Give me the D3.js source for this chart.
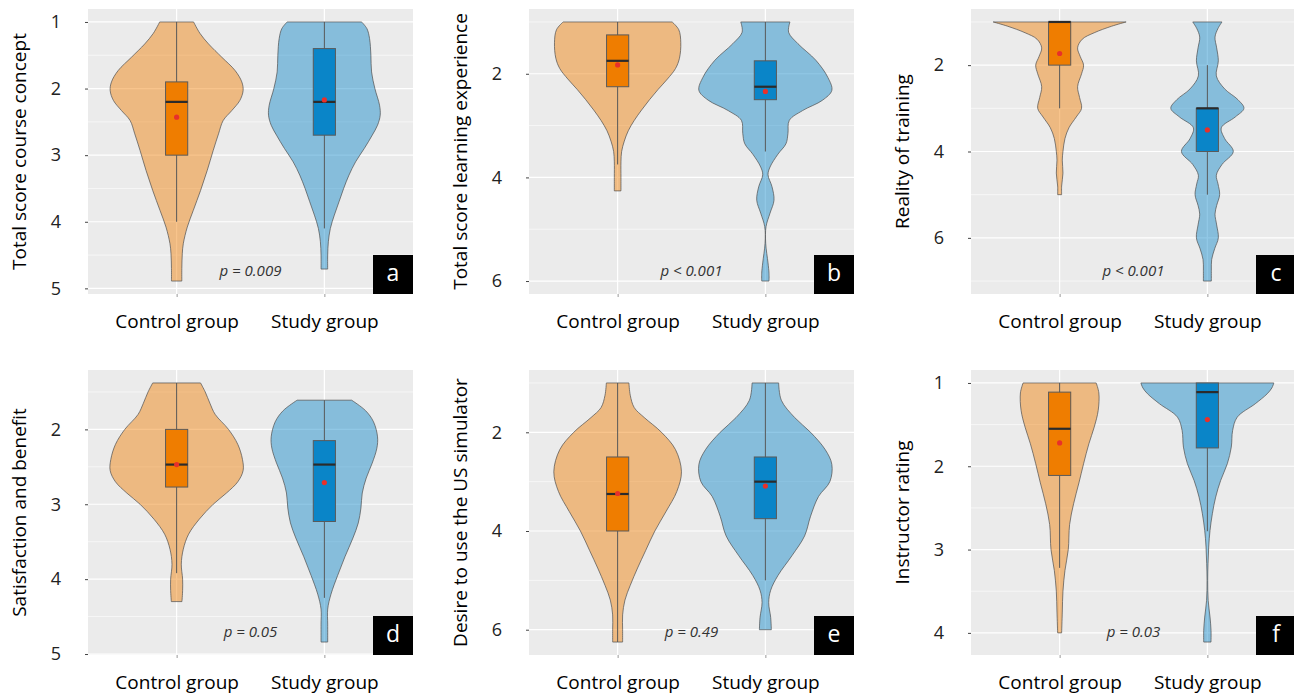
<!DOCTYPE html>
<html>
<head>
<meta charset="utf-8">
<script src="https://cdn.jsdelivr.net/npm/d3@7"></script>
<style>
  body { margin: 0; background: #fff; }
  svg { display: block; font-family: "Open Sans", sans-serif; }
</style>
</head>
<body>
<svg id="vis"></svg>
<script>
// Datos
const groups = ["Control group", "Study group"];
const letters = ["a", "b", "c", "d", "e", "f"];
const yTitles = [
    "Total score course concept",
    "Total score learning experience",
    "Reality of training",
    "Satisfaction and benefit",
    "Desire to use the US simulator",
    "Instructor rating"
];
const pTexts = ["p = 0.009", "p < 0.001", "p < 0.001", "p = 0.05", "p = 0.49", "p = 0.03"];
const majorTicks = [[1, 2, 3, 4, 5], [2, 4, 6], [2, 4, 6], [2, 3, 4, 5], [2, 4, 6], [1, 2, 3, 4]];
const minorTicks = [[1.5, 2.5, 3.5, 4.5], [1, 3, 5], [1, 3, 5, 7], [1.5, 2.5, 3.5, 4.5], [1, 3, 5], [1.5, 2.5, 3.5]];

// densidad relativa del violin: [valor, ancho relativo]
const aControl = [[1.0, 0.255], [1.17, 0.35], [1.33, 0.48], [1.53, 0.68], [1.73, 0.88], [1.9, 0.98], [2.03, 1.0], [2.18, 0.95], [2.33, 0.83], [2.48, 0.70], [2.68, 0.63], [2.93, 0.55], [3.23, 0.46], [3.53, 0.36], [3.83, 0.25], [4.08, 0.16], [4.33, 0.10], [4.48, 0.085], [4.7, 0.078], [4.89, 0.078]];
const aStudy = [[1.0, 0.56], [1.1, 0.64], [1.25, 0.68], [1.5, 0.70], [1.75, 0.71], [2.0, 0.76], [2.25, 0.83], [2.4, 0.84], [2.55, 0.80], [2.7, 0.72], [2.9, 0.60], [3.1, 0.47], [3.3, 0.37], [3.5, 0.29], [3.7, 0.22], [3.9, 0.15], [4.1, 0.09], [4.3, 0.06], [4.5, 0.05], [4.71, 0.05]];
const bControl = [[1.0, 0.82], [1.15, 0.92], [1.4, 0.95], [1.7, 0.93], [1.9, 0.87], [2.1, 0.75], [2.3, 0.61], [2.5, 0.48], [2.7, 0.36], [2.9, 0.25], [3.1, 0.16], [3.3, 0.10], [3.5, 0.06], [3.7, 0.05], [4.0, 0.05], [4.26, 0.05]];
const bStudy = [[1.0, 0.37], [1.2, 0.35], [1.42, 0.49], [1.74, 0.76], [2.07, 0.94], [2.32, 1.0], [2.51, 0.86], [2.71, 0.56], [2.9, 0.36], [3.15, 0.34], [3.35, 0.31], [3.55, 0.19], [3.8, 0.07], [3.95, 0.04], [4.18, 0.10], [4.44, 0.13], [4.69, 0.07], [4.95, 0.01], [5.27, 0.005], [5.65, 0.04], [5.85, 0.055], [6.0, 0.055]];
const cControl = [[1.0, 1.0], [1.1, 0.78], [1.25, 0.52], [1.4, 0.34], [1.6, 0.27], [1.8, 0.31], [2.0, 0.36], [2.2, 0.33], [2.5, 0.27], [2.75, 0.30], [3.0, 0.33], [3.2, 0.25], [3.45, 0.14], [3.7, 0.08], [4.0, 0.05], [4.2, 0.04], [4.5, 0.05], [4.8, 0.03], [5.0, 0.03]];
const cStudy = [[1.0, 0.22], [1.15, 0.16], [1.35, 0.115], [1.6, 0.14], [1.9, 0.165], [2.25, 0.135], [2.55, 0.26], [2.8, 0.46], [3.0, 0.55], [3.2, 0.42], [3.45, 0.21], [3.7, 0.26], [4.0, 0.39], [4.3, 0.22], [4.55, 0.135], [4.75, 0.16], [5.0, 0.185], [5.25, 0.14], [5.45, 0.115], [5.7, 0.14], [6.0, 0.165], [6.25, 0.11], [6.5, 0.065], [6.75, 0.06], [7.0, 0.06]];
const dControl = [[1.38, 0.36], [1.5, 0.43], [1.65, 0.50], [1.8, 0.58], [2.0, 0.78], [2.2, 0.92], [2.4, 0.99], [2.55, 1.0], [2.7, 0.92], [2.85, 0.75], [3.0, 0.55], [3.2, 0.34], [3.4, 0.18], [3.6, 0.10], [3.8, 0.07], [4.0, 0.09], [4.15, 0.09], [4.3, 0.08]];
const dStudy = [[1.61, 0.41], [1.75, 0.62], [1.9, 0.74], [2.1, 0.80], [2.25, 0.79], [2.45, 0.72], [2.65, 0.63], [2.85, 0.57], [3.05, 0.55], [3.25, 0.51], [3.45, 0.43], [3.7, 0.31], [3.95, 0.20], [4.2, 0.10], [4.4, 0.05], [4.6, 0.05], [4.84, 0.05]];
const eControl = [[1.0, 0.17], [1.25, 0.19], [1.5, 0.25], [1.7, 0.40], [2.0, 0.66], [2.35, 0.87], [2.8, 0.96], [3.2, 0.89], [3.6, 0.73], [4.0, 0.56], [4.4, 0.42], [4.75, 0.30], [5.1, 0.19], [5.4, 0.11], [5.7, 0.075], [6.0, 0.075], [6.25, 0.075]];
const eStudy = [[1.0, 0.20], [1.35, 0.24], [1.7, 0.44], [2.0, 0.68], [2.35, 0.90], [2.65, 1.0], [3.0, 0.97], [3.3, 0.80], [3.7, 0.68], [4.1, 0.59], [4.5, 0.40], [4.9, 0.19], [5.2, 0.08], [5.45, 0.05], [5.75, 0.08], [6.0, 0.09]];
const fControl = [[1.0, 0.55], [1.12, 0.59], [1.33, 0.58], [1.53, 0.52], [1.73, 0.44], [1.97, 0.36], [2.2, 0.29], [2.45, 0.21], [2.7, 0.15], [3.0, 0.13], [3.25, 0.08], [3.5, 0.05], [3.75, 0.04], [4.0, 0.03]];
const fStudy = [[1.0, 1.0], [1.06, 0.97], [1.13, 0.90], [1.25, 0.72], [1.41, 0.45], [1.57, 0.38], [1.77, 0.36], [1.97, 0.30], [2.17, 0.20], [2.37, 0.125], [2.57, 0.075], [2.77, 0.04], [2.97, 0.02], [3.17, 0.01], [3.37, 0.005], [3.61, 0.012], [3.81, 0.04], [3.97, 0.055], [4.11, 0.055]];

// cajas: [min, q1, mediana, q3, max, media]
const boxA = [[1.0, 1.9, 2.2, 3.0, 4.0, 2.43], [1.0, 1.4, 2.2, 2.7, 4.1, 2.17]];
const boxB = [[1.0, 1.25, 1.75, 2.25, 3.75, 1.83], [1.0, 1.75, 2.25, 2.5, 3.5, 2.34]];
const boxC = [[1.0, 1.0, 1.0, 2.0, 3.0, 1.73], [2.0, 3.0, 3.0, 4.0, 5.0, 3.5]];
const boxD = [[1.38, 2.0, 2.47, 2.77, 3.92, 2.47], [1.61, 2.15, 2.47, 3.23, 4.25, 2.71]];
const boxE = [[1.0, 2.5, 3.25, 4.0, 6.25, 3.24], [1.0, 2.5, 3.0, 3.75, 5.0, 3.09]];
const boxF = [[1.0, 1.11, 1.55, 2.11, 3.22, 1.72], [1.0, 1.0, 1.11, 1.78, 2.78, 1.44]];

const violins = [[aControl, aStudy], [bControl, bStudy], [cControl, cStudy], [dControl, dStudy], [eControl, eStudy], [fControl, fStudy]];
const boxes = [boxA, boxB, boxC, boxD, boxE, boxF];

const WIDTH = 1294;
const HEIGHT = 698;
const PANEL_W = 325;
const PANEL_H = 285;
const COLS = [88, 529, 971];
const ROWS = [9, 370];

const VIOLIN_FILL = ["#EF7D00", "#0A85C8"];
const BOX_FILL = ["#EF7D00", "#0A85C8"];

const svg = d3.select("#vis")
    .attr("width", WIDTH)
    .attr("height", HEIGHT);

letters.forEach((letter, i) => {
    const left = COLS[i % 3];
    const top = ROWS[Math.floor(i / 3)];
    const g = svg.append("g").attr("transform", `translate(${left}, ${top})`);

    // escala y invertida con expansion del 5%
    const allValues = violins[i].flat().map(d => d[0]);
    const [lo, hi] = d3.extent(allValues);
    const pad = (hi - lo) * 0.05;
    const y = d3.scaleLinear().domain([lo - pad, hi + pad]).range([0, PANEL_H]);

    const x = d3.scalePoint().domain(groups).range([0, PANEL_W]).padding(0.6);
    const step = x.step();
    const w = d3.scaleLinear().domain([0, 1]).range([0, step * 0.45]);

    // fondo
    g.append("rect")
        .attr("width", PANEL_W)
        .attr("height", PANEL_H)
        .attr("fill", "#EBEBEB");

    g.selectAll(".minor")
        .data(minorTicks[i].filter(v => v > y.domain()[0] && v < y.domain()[1]))
        .join("line")
        .attr("x1", 0).attr("x2", PANEL_W)
        .attr("y1", d => y(d)).attr("y2", d => y(d))
        .attr("stroke", "#fff").attr("stroke-width", 0.6);

    g.selectAll(".major")
        .data(majorTicks[i])
        .join("line")
        .attr("x1", 0).attr("x2", PANEL_W)
        .attr("y1", d => y(d)).attr("y2", d => y(d))
        .attr("stroke", "#fff").attr("stroke-width", 1.2);

    g.selectAll(".vgrid")
        .data(groups)
        .join("line")
        .attr("x1", d => x(d)).attr("x2", d => x(d))
        .attr("y1", 0).attr("y2", PANEL_H)
        .attr("stroke", "#fff").attr("stroke-width", 1.2);

    // violines
    groups.forEach((grp, j) => {
        const cx = x(grp);
        const area = d3.area()
            .y(d => y(d[0]))
            .x0(d => cx - w(d[1]))
            .x1(d => cx + w(d[1]))
            .curve(d3.curveCatmullRom.alpha(0.5));
        g.append("path")
            .datum(violins[i][j])
            .attr("d", area)
            .attr("fill", VIOLIN_FILL[j])
            .attr("fill-opacity", 0.45)
            .attr("stroke", "#4d4d4d")
            .attr("stroke-width", 0.7);
    });

    // cajas
    groups.forEach((grp, j) => {
        const cx = x(grp);
        const [mn, q1, med, q3, mx, mean] = boxes[i][j];
        const bw = step * 0.075;
        g.append("line")
            .attr("x1", cx).attr("x2", cx)
            .attr("y1", y(mn)).attr("y2", y(mx))
            .attr("stroke", "#555").attr("stroke-width", 1);
        g.append("rect")
            .attr("x", cx - bw)
            .attr("y", y(q1))
            .attr("width", bw * 2)
            .attr("height", y(q3) - y(q1))
            .attr("fill", BOX_FILL[j])
            .attr("stroke", "#5a5a5a")
            .attr("stroke-width", 1);
        g.append("line")
            .attr("x1", cx - bw).attr("x2", cx + bw)
            .attr("y1", y(med)).attr("y2", y(med))
            .attr("stroke", "#2b2b2b").attr("stroke-width", 2.2);
        g.append("circle")
            .attr("cx", cx).attr("cy", y(mean))
            .attr("r", 2.6)
            .attr("fill", "#E8302A");
    });

    // ejes
    const ejeY = g.append("g").call(d3.axisLeft(y).tickValues(majorTicks[i]).tickFormat(d3.format("d")).tickSize(3).tickPadding(24));
    ejeY.select(".domain").remove();
    ejeY.selectAll("line").attr("stroke", "#444");
    ejeY.selectAll("text").attr("font-size", 18).attr("fill", "#222").attr("font-family", "Open Sans");

    const ejeX = g.append("g")
        .attr("transform", `translate(0, ${PANEL_H})`)
        .call(d3.axisBottom(x).tickSize(3).tickPadding(17.5));
    ejeX.select(".domain").remove();
    ejeX.selectAll("line").attr("stroke", "#999");
    ejeX.selectAll("text").attr("font-size", 19).attr("fill", "#000").attr("font-family", "Open Sans");

    // titulo eje y
    g.append("text")
        .attr("transform", `translate(-62, ${PANEL_H / 2}) rotate(-90)`)
        .attr("text-anchor", "middle")
        .attr("font-size", 19)
        .attr("fill", "#000")
        .text(yTitles[i]);

    // valor p
    g.append("text")
        .attr("x", PANEL_W / 2)
        .attr("y", PANEL_H - 18.5)
        .attr("text-anchor", "middle")
        .attr("font-size", 15)
        .attr("font-style", "italic")
        .attr("fill", "#333")
        .text(pTexts[i]);

    // etiqueta del panel
    g.append("rect")
        .attr("x", PANEL_W - 40)
        .attr("y", PANEL_H - 39)
        .attr("width", 40)
        .attr("height", 39)
        .attr("fill", "#000");
    g.append("text")
        .attr("x", PANEL_W - 20)
        .attr("y", PANEL_H - 13)
        .attr("text-anchor", "middle")
        .attr("font-size", 23)
        .attr("fill", "#fff")
        .text(letter);
});
</script>
</body>
</html>
